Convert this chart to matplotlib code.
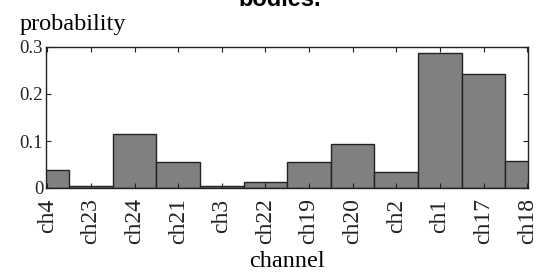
import matplotlib
matplotlib.use("Agg")
import matplotlib.pyplot as plt
import numpy as np

channels = ["ch4", "ch23", "ch24", "ch21", "ch3", "ch22", "ch19", "ch20", "ch2", "ch1", "ch17", "ch18"]
probability = [0.038, 0.005, 0.115, 0.055, 0.005, 0.012, 0.055, 0.093, 0.035, 0.288, 0.243, 0.057]
yticks = [0, 0.1, 0.2, 0.3]
ytick_labels = ["0", "0.1", "0.2", "0.3"]

plt.rcParams['font.family'] = ['Liberation Serif', 'DejaVu Serif']

fig = plt.figure(figsize=(5.48, 2.72), dpi=100)
ax = fig.add_axes([46/548, 1-188/272, (528-46)/548, (188-47)/272])

x = np.arange(len(channels))
ax.bar(x, probability, width=1.0, color="#808080", edgecolor="#222222", linewidth=1.0)

ax.set_xlim(-0.03, len(channels) - 1 + 0.02)
ax.set_ylim(0, 0.3)
ax.set_xticks(x)
ax.set_xticklabels(channels, rotation=90, fontsize=17)
ax.set_yticks(yticks)
ax.set_yticklabels(ytick_labels, fontsize=13.5)

ax.tick_params(direction='in', length=3.5, width=0.8, top=True, right=True, colors="#222222")
ax.tick_params(axis='x', pad=7.5)
ax.tick_params(axis='y', pad=2)
for s in ax.spines.values():
    s.set_linewidth(1.0)
    s.set_color("#222222")

ax.set_xlabel("channel", fontsize=17.5, labelpad=5)
fig.text(20/548, 1-30/272, "probability", fontsize=17.5, ha='left', va='baseline')
fig.text(280/548, 1-6/272, "bodies.", fontsize=17, fontweight='bold',
         family=['Liberation Sans', 'DejaVu Sans'], ha='center', va='baseline')

fig.savefig("out.png", dpi=100)
